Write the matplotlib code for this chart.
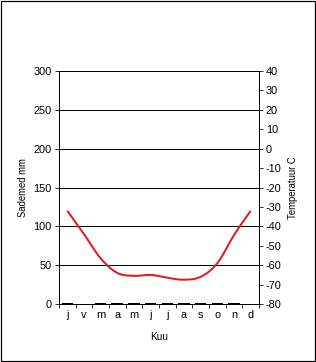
import numpy as np
import matplotlib
matplotlib.use("Agg")
import matplotlib.pyplot as plt
from matplotlib.patches import Rectangle

months = ["j", "v", "m", "a", "m", "j", "j", "a", "s", "o", "n", "d"]
precip = [1, 0, 1, 1, 1, 1, 1, 1, 1, 1, 1, 0]
temp = [-32, -44, -56.5, -64, -65.5, -65, -66.5, -67.5, -66, -59, -44.5, -32]

plt.rcParams['font.family'] = ['Liberation Sans', 'DejaVu Sans']
plt.rcParams['axes.unicode_minus'] = False

DPI = 72
fig = plt.figure(figsize=(316 / DPI, 362 / DPI), dpi=DPI)
fig.patches.append(Rectangle((0.002, 0.002), 0.995, 0.995, transform=fig.transFigure,
                             fill=False, edgecolor='black', linewidth=1.2))

ax = fig.add_axes([59 / 316, (362 - 304) / 362, 200 / 316, 233 / 362])
x = np.arange(len(months))
ax.bar(x, precip, width=0.7, color='black', zorder=3)
ax.set_xlim(-0.5, 11.5)
ax.set_ylim(0, 300)
ax.set_yticks(np.arange(0, 301, 50))
ax.yaxis.grid(True, color='black', linewidth=1.0)
ax.set_axisbelow(True)
ax.set_xticks(np.arange(-0.5, 12, 1))
ax.set_xticklabels([])
ax.set_xticks(x, minor=True)
ax.set_xticklabels(months, minor=True)
ax.tick_params(axis='x', which='minor', length=0, pad=6, labelsize=11)
ax.tick_params(axis='x', which='major', length=4, direction='out', width=0.8)
ax.tick_params(axis='y', length=4, direction='out', labelsize=11, pad=3)
ax.spines['top'].set_visible(False)
for s in ['left', 'bottom', 'right']:
    ax.spines[s].set_linewidth(1.0)
ax.set_ylabel("Sademed mm", fontsize=9.5, labelpad=6)
ax.set_xlabel("Kuu", fontsize=10, labelpad=12)

ax2 = ax.twinx()
ax2.set_ylim(-80, 40)
ax2.set_yticks(np.arange(-80, 41, 10))
ax2.tick_params(axis='y', length=4, direction='out', labelsize=11, pad=3)
ax2.spines['top'].set_visible(False)
ax2.set_ylabel("Temperatuur C", fontsize=9.5, labelpad=6)

# Catmull-Rom smoothing of the temperature curve (Excel-style smoothed line)
t = np.array(temp, dtype=float)
p = np.concatenate([[t[0]], t, [t[-1]]])
px = np.concatenate([[x[0]], x, [x[-1]]]).astype(float)
xs, ys = [], []
for i in range(1, len(p) - 2):
    u = np.linspace(0, 1, 20, endpoint=False)
    for arr, out in ((px, xs), (p, ys)):
        p0, p1, p2, p3 = arr[i - 1], arr[i], arr[i + 1], arr[i + 2]
        out.extend(0.5 * ((2 * p1) + (-p0 + p2) * u + (2 * p0 - 5 * p1 + 4 * p2 - p3) * u ** 2
                          + (-p0 + 3 * p1 - 3 * p2 + p3) * u ** 3))
xs.append(x[-1]); ys.append(t[-1])
ax2.plot(xs, ys, color='#e31a1c', linewidth=2, solid_capstyle='butt')

fig.savefig("out.png", dpi=DPI)
